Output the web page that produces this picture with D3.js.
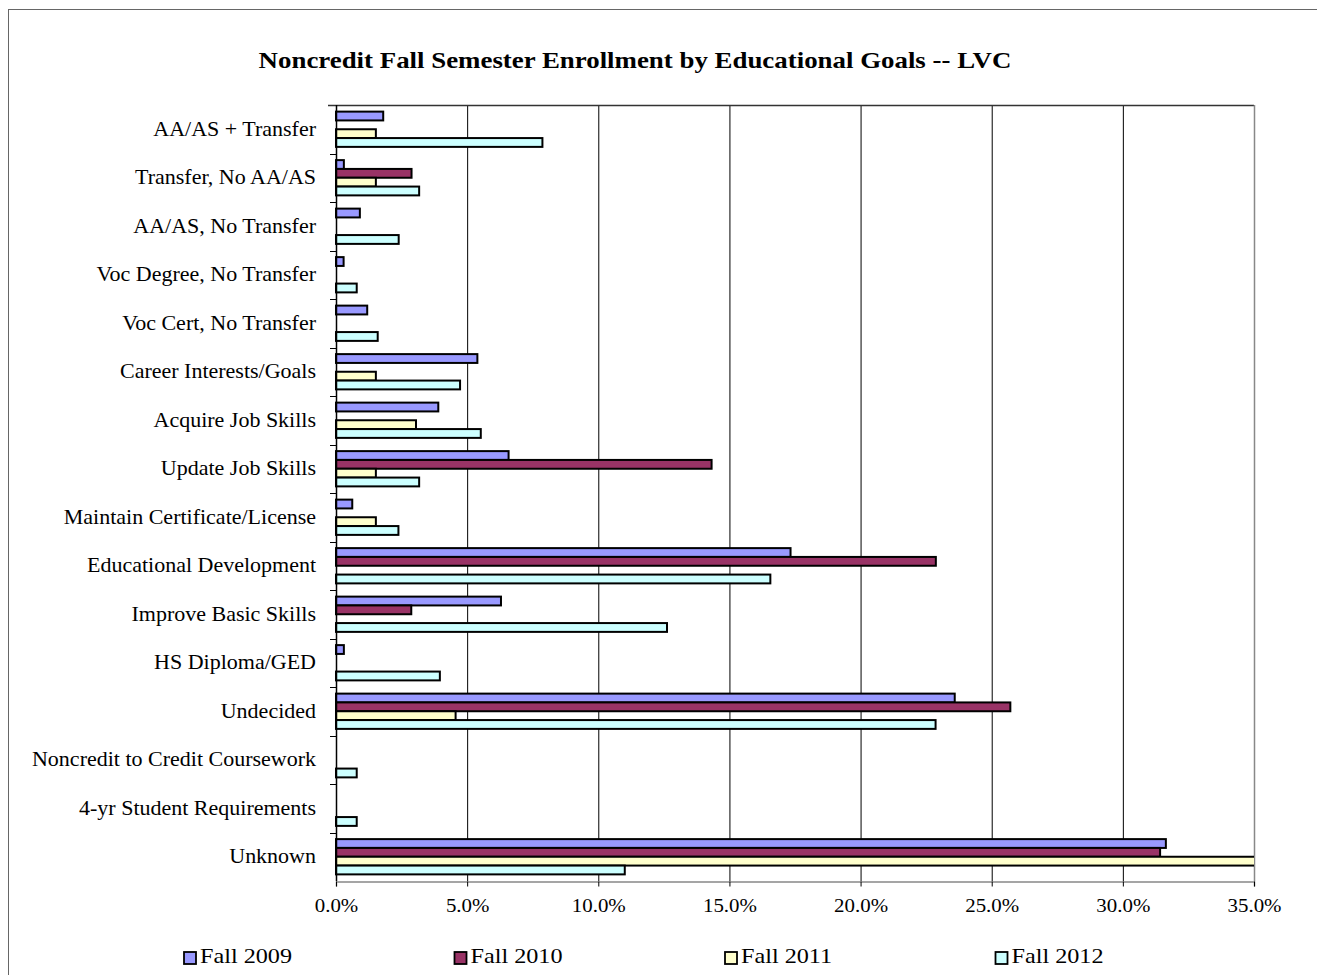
<!DOCTYPE html>
<html>
<head>
<meta charset="utf-8">
<script src="https://cdn.jsdelivr.net/npm/d3@7"></script>
<style>
  body { margin: 0; background: #fff; }
  svg text { font-family: "Liberation Serif", "DejaVu Serif", serif; fill: #000; }
</style>
</head>
<body>
<div id="chart"></div>
<script>
//Datos (porcentajes)
const categories = ['AA/AS + Transfer', 'Transfer, No AA/AS', 'AA/AS, No Transfer', 'Voc Degree, No Transfer',
  'Voc Cert, No Transfer', 'Career Interests/Goals', 'Acquire Job Skills', 'Update Job Skills',
  'Maintain Certificate/License', 'Educational Development', 'Improve Basic Skills', 'HS Diploma/GED',
  'Undecided', 'Noncredit to Credit Coursework', '4-yr Student Requirements', 'Unknown'];
const seriesNames = ['Fall 2009', 'Fall 2010', 'Fall 2011', 'Fall 2012'];
const fall2009 = [1.80, 0.30, 0.91, 0.29, 1.19, 5.39, 3.90, 6.58, 0.62, 17.33, 6.29, 0.30, 23.59, 0, 0, 31.64];
const fall2010 = [0, 2.88, 0, 0, 0, 0, 0, 14.32, 0, 22.87, 2.87, 0, 25.71, 0, 0, 31.42];
const fall2011 = [1.52, 1.52, 0, 0, 0, 1.52, 3.05, 1.52, 1.52, 0, 0, 0, 4.56, 0, 0, 36.0];
const fall2012 = [7.87, 3.17, 2.39, 0.79, 1.59, 4.73, 5.52, 3.17, 2.38, 16.56, 12.62, 3.96, 22.86, 0.79, 0.79, 11.01];
const xTicks = [0, 5, 10, 15, 20, 25, 30, 35];

//Colores fijos
const COLORS = ['#9999FF', '#993366', '#FFFFCC', '#CCFFFF'];

const W = 1317, H = 975;
const plot = { left: 336, right: 1254, top: 105, bottom: 881 };
//El texto del original está algo estirado en horizontal
const STRETCH = 'scale(1.1,1)';

const allSeries = [fall2009, fall2010, fall2011, fall2012];
const data = categories.map(function(c, i) {
  return { cat: c, values: seriesNames.map(function(s, j) { return { key: s, idx: j, value: allSeries[j][i] }; }) };
});

let svg = d3.select('#chart').append('svg')
  .attr('width', W).attr('height', H);

//Marco exterior
svg.append('rect')
  .attr('x', 8.5).attr('y', 9.5)
  .attr('width', W + 10).attr('height', H + 10)
  .attr('fill', 'none').attr('stroke', '#666').attr('stroke-width', 1);

//Título
svg.append('g')
  .attr('transform', 'translate(635,68) scale(1.12,1)')
  .append('text')
  .attr('text-anchor', 'middle')
  .style('font-size', '24px').style('font-weight', 'bold')
  .text('Noncredit Fall Semester Enrollment by Educational Goals -- LVC');

//Escalas
let x = d3.scaleLinear().domain([0, 35]).range([plot.left, plot.right]);
let y = d3.scaleBand().domain(categories).range([plot.top, plot.bottom]);
let ySub = d3.scaleBand().domain(seriesNames).range([0, y.bandwidth()]).paddingOuter(0.75);
let color = d3.scaleOrdinal().domain(seriesNames).range(COLORS);

//Rejilla vertical
svg.append('g').selectAll('line')
  .data(xTicks.slice(1, -1))
  .enter().append('line')
  .attr('x1', function(d) { return x(d) + 0.5; })
  .attr('x2', function(d) { return x(d) + 0.5; })
  .attr('y1', plot.top).attr('y2', plot.bottom)
  .attr('stroke', '#000').attr('stroke-width', 1);

//Borde del área de gráfico
svg.append('line')
  .attr('x1', plot.left - 8).attr('x2', plot.right)
  .attr('y1', plot.top + 0.5).attr('y2', plot.top + 0.5)
  .attr('stroke', '#333').attr('stroke-width', 1.5);
svg.append('line')
  .attr('x1', plot.right + 0.5).attr('x2', plot.right + 0.5)
  .attr('y1', plot.top).attr('y2', plot.bottom)
  .attr('stroke', '#888').attr('stroke-width', 1.5);

//Barras
svg.append('clipPath').attr('id', 'clip')
  .append('rect')
  .attr('x', plot.left - 2).attr('y', plot.top)
  .attr('width', plot.right - plot.left + 2).attr('height', plot.bottom - plot.top);

svg.append('g')
  .attr('clip-path', 'url(#clip)')
  .selectAll('g')
  .data(data)
  .enter().append('g')
  .attr('transform', function(d) { return 'translate(0,' + y(d.cat) + ')'; })
  .selectAll('rect')
  .data(function(d) { return d.values.filter(function(v) { return v.value > 0; }); })
  .enter().append('rect')
  .attr('x', x(0))
  .attr('y', function(d) { return ySub(d.key); })
  .attr('width', function(d) { return x(d.value) - x(0); })
  .attr('height', ySub.bandwidth())
  .attr('fill', function(d) { return color(d.key); })
  .attr('stroke', '#000').attr('stroke-width', 2);

//Eje Y
svg.append('line')
  .attr('x1', plot.left + 0.5).attr('x2', plot.left + 0.5)
  .attr('y1', plot.top).attr('y2', plot.bottom)
  .attr('stroke', '#000').attr('stroke-width', 1.5);

svg.append('g').selectAll('line')
  .data(categories.slice(1))
  .enter().append('line')
  .attr('x1', plot.left - 6).attr('x2', plot.left)
  .attr('y1', function(d) { return Math.round(y(d)) + 0.5; })
  .attr('y2', function(d) { return Math.round(y(d)) + 0.5; })
  .attr('stroke', '#000');

svg.append('g').selectAll('g')
  .data(categories)
  .enter().append('g')
  .attr('transform', function(d) { return 'translate(316,' + (y(d) + y.bandwidth() / 2 + 2) + ') ' + STRETCH; })
  .append('text')
  .attr('text-anchor', 'end')
  .attr('dominant-baseline', 'middle')
  .style('font-size', '20px')
  .text(function(d) { return d; });

//Eje X
let xAxis = d3.axisBottom(x)
  .tickValues(xTicks)
  .tickSize(5)
  .tickPadding(14)
  .tickFormat(function(d) { return d.toFixed(1) + '%'; });

let gx = svg.append('g')
  .attr('transform', 'translate(0,' + (plot.bottom + 0.5) + ')')
  .call(xAxis);
gx.select('.domain').attr('stroke', '#888').attr('stroke-width', 1.5);
gx.selectAll('.tick line').attr('stroke', '#000');
gx.selectAll('.tick text')
  .attr('transform', 'translate(0,-2) ' + STRETCH)
  .style('font-family', '"Liberation Serif", serif')
  .style('font-size', '19px');

//Leyenda
let legend = svg.append('g').selectAll('g')
  .data(seriesNames)
  .enter().append('g')
  .attr('transform', function(d, i) { return 'translate(' + (184 + i * 270.5) + ',952)'; });

legend.append('rect')
  .attr('width', 12).attr('height', 12)
  .attr('fill', function(d) { return color(d); })
  .attr('stroke', '#000').attr('stroke-width', 1.8);

legend.append('g')
  .attr('transform', 'translate(16,6) ' + STRETCH)
  .append('text')
  .attr('dominant-baseline', 'middle')
  .style('font-size', '22px')
  .text(function(d) { return d; });
</script>
</body>
</html>
